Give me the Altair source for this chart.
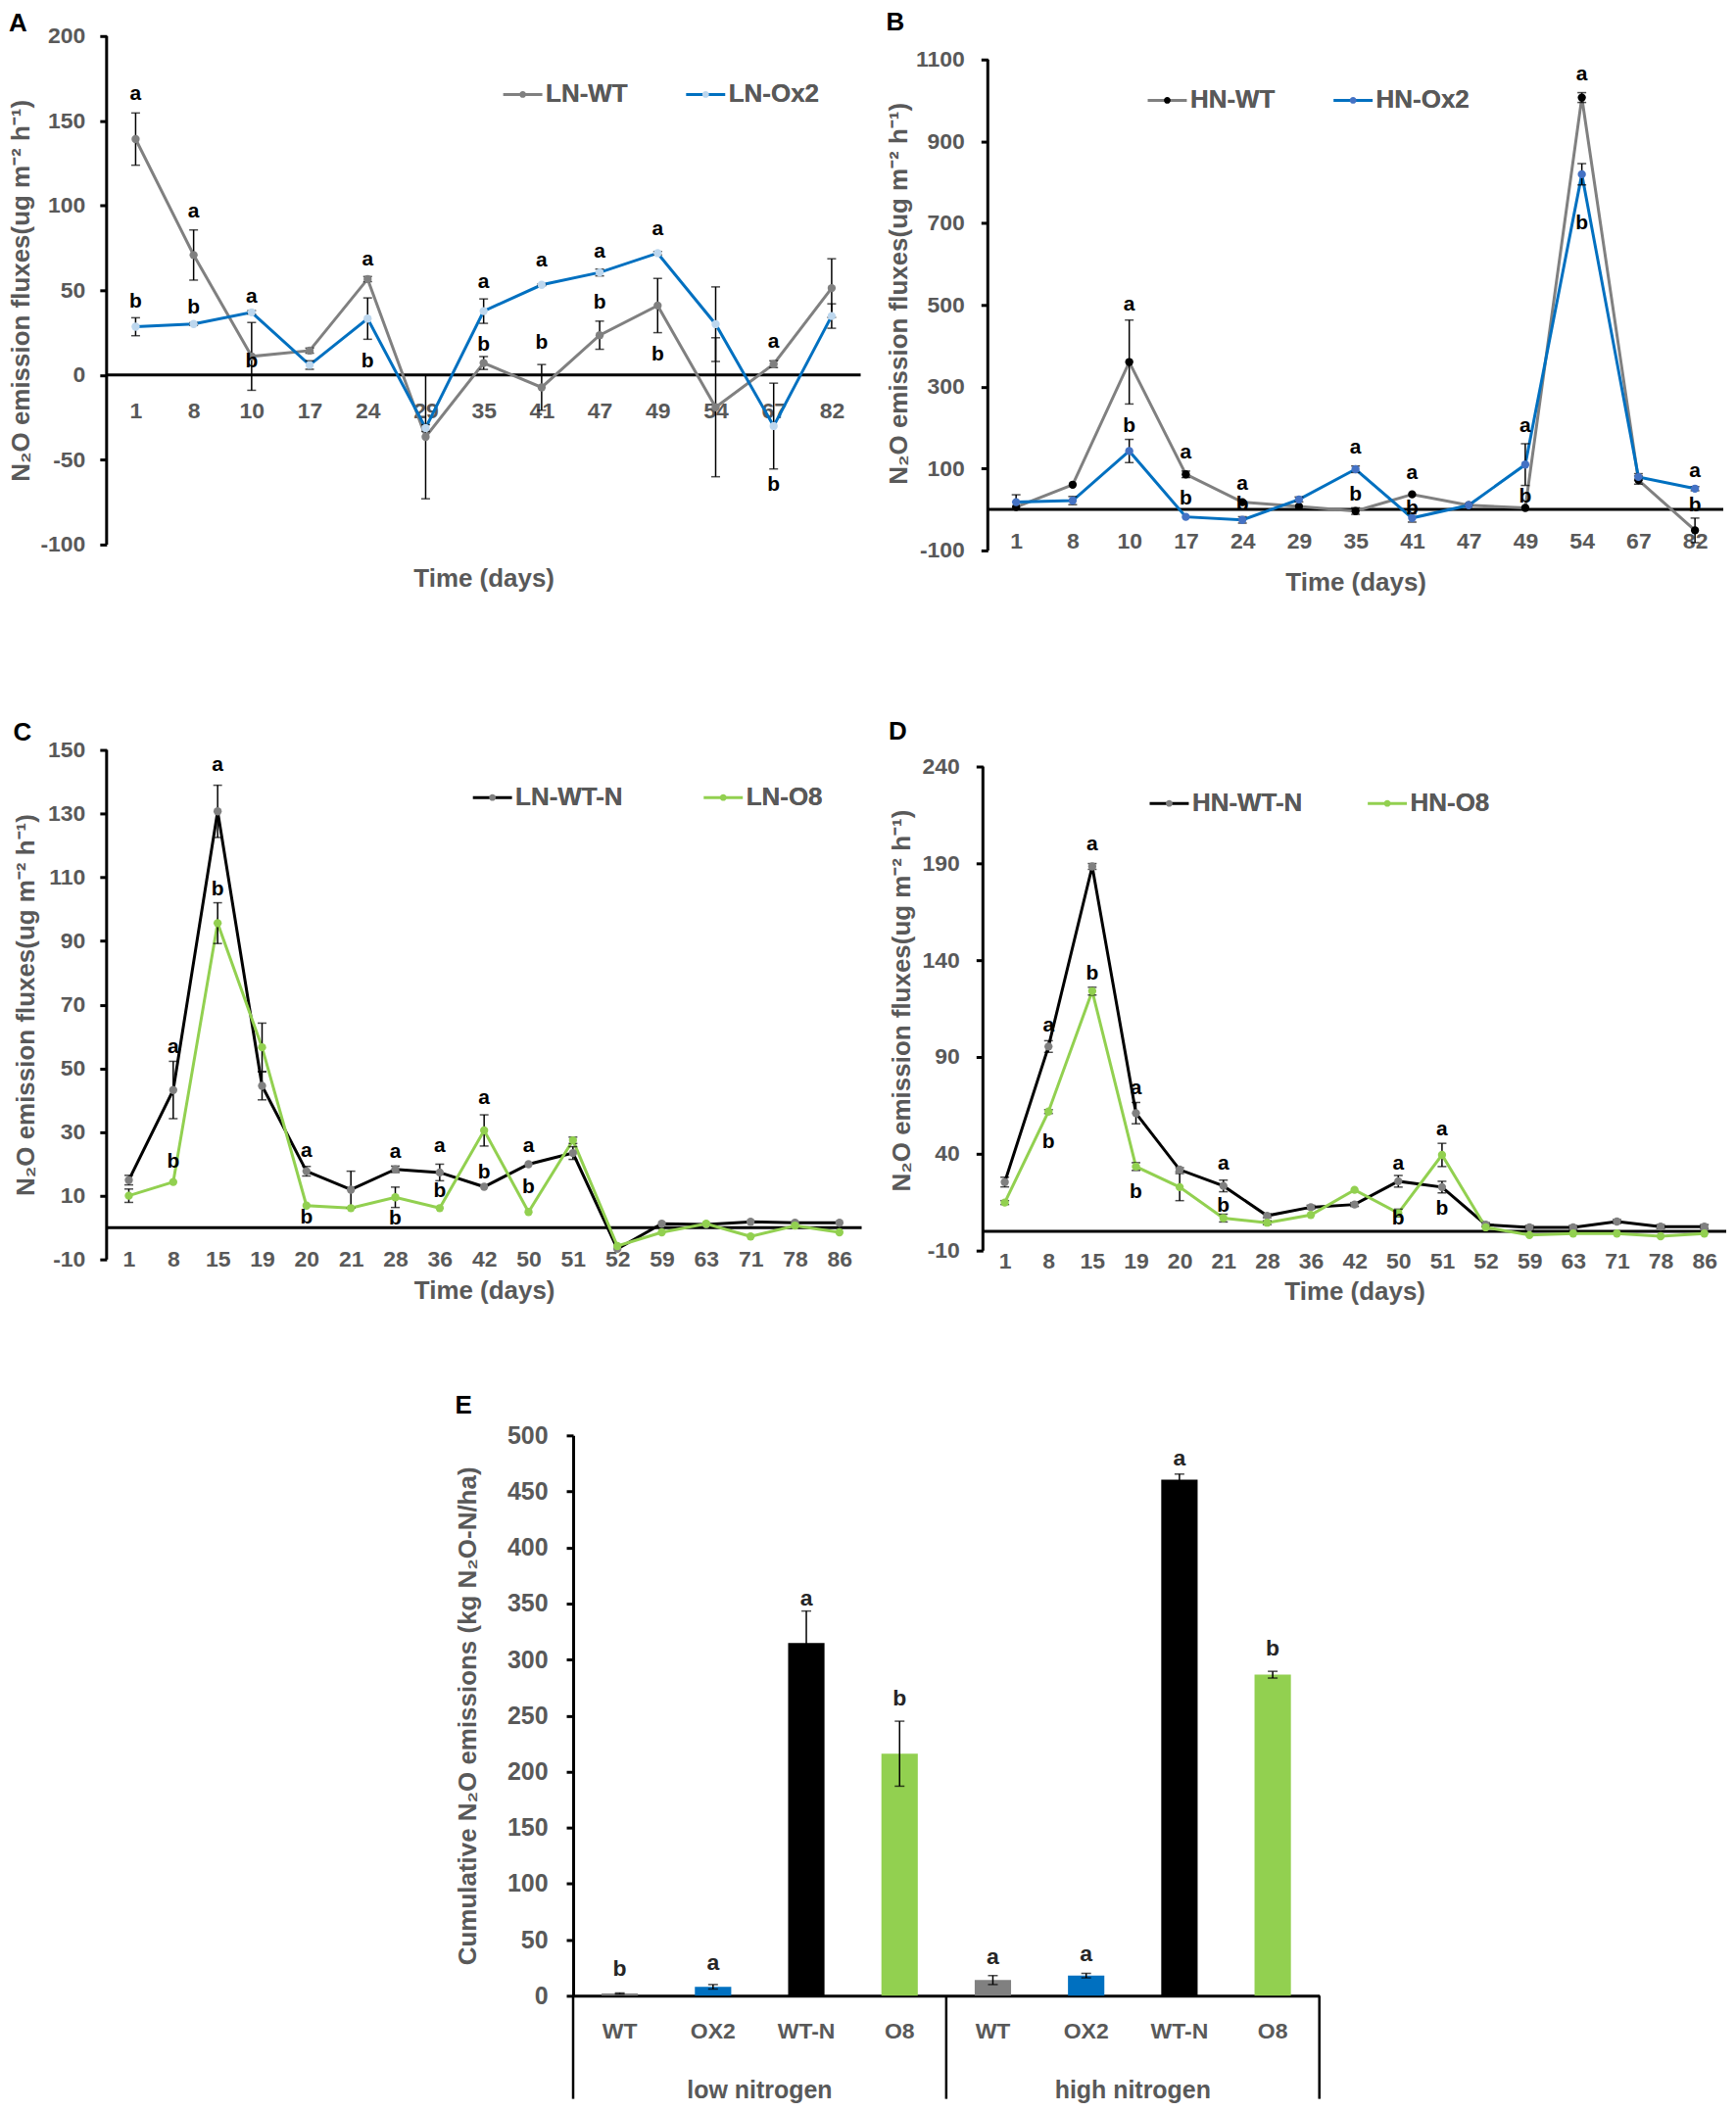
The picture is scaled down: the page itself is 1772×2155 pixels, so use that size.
import altair as alt
import pandas as pd

FONT = "Liberation Sans"
GREY = "#595959"

# ---------------- panels A and B: sampling days ----------------
days_ab = ["1", "8", "10", "17", "24", "29", "35", "41", "47", "49", "54", "67", "82"]

# A: low nitrogen, WT vs Ox2
ln_wt = [139.2, 70.8, 11.0, 14.4, 56.6, -36.5, 7.1, -7.3, 23.5, 41.0, -19.0, 6.4, 51.3]
ln_wt_err = [15.4, 14.8, 20.0, 1.5, 1.5, 36.5, 3.8, 13.5, 8.3, 16.0, 41.0, 2.0, 17.3]
ln_ox2 = [28.5, 30.1, 37.0, 5.9, 33.3, -31.3, 37.7, 53.2, 60.5, 71.9, 30.0, -30.1, 34.8]
ln_ox2_err = [5.3, 0.8, 1.0, 2.5, 12.2, 2.0, 7.2, 0.5, 2.0, 1.0, 22.0, 25.3, 7.2]
a_let_day = ["1", "1", "8", "8", "10", "10", "24", "24", "35", "35", "41", "41", "47", "47", "49", "49", "67", "67"]
a_let_txt = ["a", "b", "a", "b", "a", "b", "a", "b", "a", "b", "a", "b", "a", "b", "a", "b", "a", "b"]
a_let_y = [166, 43, 96.5, 39.5, 46.3, 8.2, 68, 8.2, 55, 17.8, 67.3, 19, 72.6, 42.5, 86.3, 12.1, 19.6, -64.8]

# B: high nitrogen, WT vs Ox2
hn_wt = [6, 60.6, 360.5, 86, 18, 7.6, -3.8, 37, 10.4, 3.8, 1007, 72, -51]
hn_wt_err = [0, 0, 102.6, 8, 0, 0, 8, 0, 0, 0, 12, 10, 30]
hn_ox2 = [18, 21.8, 143, -18, -25.5, 24.6, 98.4, -20.8, 10.4, 109.8, 819.5, 79.5, 51]
hn_ox2_err = [18, 10, 28.4, 0, 8, 6, 8, 10, 0, 51, 26, 8, 5]
b_let_day = ["10", "10", "17", "17", "24", "24", "35", "35", "41", "41", "49", "49", "54", "54", "82", "82"]
b_let_txt = ["a", "b", "a", "b", "a", "b", "a", "b", "a", "b", "a", "b", "a", "b", "a", "b"]
b_let_y = [500, 204, 138, 26.5, 62.5, 12.3, 150, 36, 89, 2.8, 204, 32, 1063.7, 698.4, 92.7, 10.4]

# ---------------- panels C and D ----------------
days_cd = ["1", "8", "15", "19", "20", "21", "28", "36", "42", "50", "51", "52", "59", "63", "71", "78", "86"]

# C: low nitrogen, WT-N vs O8
ln_wtn = [14.9, 43.2, 130.7, 44.5, 17.7, 11.9, 18.3, 17.3, 12.8, 19.9, 23.4, -6.7, 1.2, 1.0, 1.8, 1.5, 1.5]
ln_wtn_err = [1.5, 9, 8.2, 4.4, 1.5, 5.8, 1, 2.6, 0, 0, 2, 0, 0, 0, 0, 0, 0]
ln_o8 = [10.0, 14.3, 95.6, 56.6, 6.9, 6.1, 9.5, 6.1, 30.5, 4.9, 27.4, -5.8, -1.5, 1.2, -2.8, 0.6, -1.5]
ln_o8_err = [2.1, 0, 6.4, 7.6, 0, 0, 3.2, 0, 4.9, 0, 1, 0, 0, 0, 0, 0, 0]
c_let_day = ["8", "8", "15", "15", "20", "20", "28", "28", "36", "36", "42", "42", "50", "50"]
c_let_txt = ["a", "b", "a", "b", "a", "b", "a", "b", "a", "b", "a", "b", "a", "b"]
c_let_y = [56.6, 20.7, 145.2, 106.2, 24.1, 3, 23.7, 2.7, 25.6, 11.3, 40.6, 17.4, 25.6, 12.5]

# D: high nitrogen, WT-N vs O8
hn_wtn = [25.4, 95.4, 188.4, 61, 31.8, 23.4, 8, 12.4, 13.8, 25.8, 22.8, 3.4, 2, 2, 5, 2.4, 2.4]
hn_wtn_err = [2.5, 3, 1.5, 5.5, 1, 3, 1, 1, 1, 3, 3, 1, 1, 1, 1, 1, 1]
hn_o8 = [14.8, 61.8, 124, 33.4, 22.8, 6.8, 4.4, 8.4, 21.4, 9.4, 39.4, 2, -2, -1.2, -1.2, -2.6, -1.2]
hn_o8_err = [1, 1, 2, 2, 7, 2, 1, 0, 0, 2, 6, 0, 0, 0, 0, 0, 0]
d_let_day = ["8", "8", "15", "15", "19", "19", "21", "21", "50", "50", "51", "51"]
d_let_txt = ["a", "b", "a", "b", "a", "b", "a", "b", "a", "b", "a", "b"]
d_let_y = [106.4, 46, 200, 132.8, 73.8, 20, 35, 13, 35, 6.4, 52.4, 11.8]

# ---------------- panel E: cumulative emissions ----------------
e_groups = ["low nitrogen", "high nitrogen"]
e_cats = ["WT", "OX2", "WT-N", "O8"]
e_colors = ["#808080", "#0070C0", "#000000", "#92D050"]
e_low = [2, 8, 314.7, 216]
e_low_err = [0.5, 2, 28.6, 29]
e_high = [14, 18, 460.5, 286.5]
e_high_err = [4, 2, 5, 3]
e_low_let = ["b", "a", "a", "b"]
e_low_let_y = [24, 29, 354, 265]
e_high_let = ["a", "a", "a", "b"]
e_high_let_y = [34.5, 37, 479, 310]

YT = "N₂O emission fluxes(ug m⁻² h⁻¹)"
LINE_SYM = "M-1,0L1,0"
# marker in the middle; the two tiny end segments give it the same extent as the line
DOT_SYM = ("M-1,0L-0.99,0M0.99,0L1,0"
           "M0.17,0A0.17,0.17,0,1,1,-0.17,0A0.17,0.17,0,1,1,0.17,0")


def series_frame(days, names, values, errors):
    rows = []
    for name, vals, errs in zip(names, values, errors):
        for d, v, e in zip(days, vals, errs):
            rows.append({"day": d, "sl": name, "sp": name, "v": v, "e": e,
                         "lo": v - e, "hi": v + e})
    return pd.DataFrame(rows)


def line_panel(tag, days, names, values, errors, line_cols, pt_cols,
               dom, ticks, lets, w, h, lay):
    df = series_frame(days, names, values, errors)
    eb = df[df.e > 0]
    let = pd.DataFrame({"day": lets[0], "t": lets[1], "y": lets[2]})

    xs = alt.Scale(type="point", padding=0.5)
    xax = alt.Axis(title="Time (days)", offset=-lay["xoff"], domain=False, ticks=False,
                   tickSize=0, labelPadding=lay["lpad"], titlePadding=lay["tpad"],
                   labelAngle=0, labelOverlap=False)
    ys = alt.Scale(domain=dom, nice=False, zero=False)
    yax = alt.Axis(values=ticks, labelExpr="'' + datum.value", title=YT, domain=False,
                   titlePadding=lay["ytp"], labelPadding=lay["ylp"])

    def X():
        return alt.X("day:N", sort=days, scale=xs, axis=xax)

    def Y(f):
        return alt.Y(f, scale=ys, axis=yax)

    leg = dict(orient="none", legendX=lay["lx"], legendY=lay["ly"], direction="horizontal",
               title=None, symbolSize=1600, symbolStrokeWidth=3, labelFont=FONT,
               labelFontSize=26, labelFontWeight="bold", labelColor=GREY,
               columnPadding=lay["cp"], labelOffset=2, padding=0)

    # y axis line (from the lowest to the highest tick) and the zero line
    yline = alt.Chart(pd.DataFrame({"a": [ticks[0]], "b": [ticks[-1]]})).mark_rule(
        color="black", strokeWidth=3).encode(x=alt.value(0), y=Y("a:Q"), y2="b:Q")
    zero = alt.Chart(pd.DataFrame({"z": [0]})).mark_rule(color="black", strokeWidth=3).encode(
        y=Y("z:Q"))
    lines = alt.Chart(df).mark_line(strokeWidth=3).encode(
        x=X(), y=Y("v:Q"),
        stroke=alt.Stroke("sl:N", sort=names, scale=alt.Scale(range=line_cols),
                          legend=alt.Legend(symbolType=LINE_SYM, **leg)))
    bars = alt.Chart(eb).mark_rule(color="black", strokeWidth=1.5).encode(
        x=X(), y=Y("lo:Q"), y2="hi:Q")
    cap_lo = alt.Chart(eb).mark_tick(color="black", thickness=1.5, size=9).encode(
        x=X(), y=Y("lo:Q"))
    cap_hi = alt.Chart(eb).mark_tick(color="black", thickness=1.5, size=9).encode(
        x=X(), y=Y("hi:Q"))
    pts = alt.Chart(df).mark_circle(size=70, opacity=1).encode(
        x=X(), y=Y("v:Q"),
        fill=alt.Fill("sp:N", sort=names, scale=alt.Scale(range=pt_cols),
                      legend=alt.Legend(symbolType=DOT_SYM, symbolStrokeColor="transparent",
                                        **leg)))
    txt = alt.Chart(let).mark_text(font=FONT, fontSize=21, fontWeight="bold",
                                   color="black").encode(x=X(), y=Y("y:Q"), text="t:N")

    return alt.layer(yline, zero, lines, bars, cap_lo, cap_hi, pts, txt).properties(
        width=w, height=h,
        title=alt.TitleParams(tag, anchor="start", frame="bounds", font=FONT, fontSize=26,
                              fontWeight="bold", color="black", offset=lay["toff"]))


chart_a = line_panel(
    "A", days_ab, ["LN-WT", "LN-Ox2"], [ln_wt, ln_ox2], [ln_wt_err, ln_ox2_err],
    ["#808080", "#0070C0"], ["#808080", "#BDD7EE"],
    [-100, 200], list(range(-100, 201, 50)), (a_let_day, a_let_txt, a_let_y),
    771, 520,
    dict(xoff=173, lpad=25, tpad=147, ytp=6, ylp=15, lx=404, ly=38, cp=53, toff=-11.5))

# B's plot is stretched upward so that its top lines up with A's; ticks stop at 1100
chart_b = line_panel(
    "B", days_ab, ["HN-WT", "HN-Ox2"], [hn_wt, hn_ox2], [hn_wt_err, hn_ox2_err],
    ["#808080", "#0070C0"], ["#000000", "#4472C4"],
    [-100, 1157.4], list(range(-100, 1101, 200)), (b_let_day, b_let_txt, b_let_y),
    752, 526,
    dict(xoff=42, lpad=22, tpad=17, ytp=4, ylp=17, lx=162, ly=44, cp=53, toff=0.5))

chart_c = line_panel(
    "C", days_cd, ["LN-WT-N", "LN-O8"], [ln_wtn, ln_o8], [ln_wtn_err, ln_o8_err],
    ["#000000", "#92D050"], ["#808080", "#92D050"],
    [-10, 150], list(range(-10, 151, 20)), (c_let_day, c_let_txt, c_let_y),
    772, 521,
    dict(xoff=33, lpad=22, tpad=7, ytp=9, ylp=15, lx=373, ly=27, cp=76, toff=-6.5))

chart_d = line_panel(
    "D", days_cd, ["HN-WT-N", "HN-O8"], [hn_wtn, hn_o8], [hn_wtn_err, hn_o8_err],
    ["#000000", "#92D050"], ["#808080", "#92D050"],
    [-10, 248.6], list(range(-10, 241, 50)), (d_let_day, d_let_txt, d_let_y),
    760, 512,
    dict(xoff=19, lpad=19, tpad=6, ytp=8, ylp=17, lx=169, ly=33, cp=60, toff=5.5))

# ---------------- panel E ----------------
e_rows = []
for g, vals, errs, lt, ly in [(e_groups[0], e_low, e_low_err, e_low_let, e_low_let_y),
                              (e_groups[1], e_high, e_high_err, e_high_let, e_high_let_y)]:
    for c, v, er, l, y in zip(e_cats, vals, errs, lt, ly):
        e_rows.append({"key": g + "|" + c, "cat": c, "v": v, "lo": v - er, "hi": v + er,
                       "t": l, "ty": y})
edf = pd.DataFrame(e_rows)
e_keys = list(edf["key"])

ey_scale = alt.Scale(domain=[0, 500], nice=False)
ey_axis = alt.Axis(values=list(range(0, 501, 50)), title="Cumulative N₂O emissions (kg N₂O-N/ha)",
                   labelFontSize=25, labelPadding=19, titlePadding=27)


def EY(f):
    return alt.Y(f, scale=ey_scale, axis=ey_axis)


ex = alt.X("key:N", sort=e_keys,
           scale=alt.Scale(type="band", paddingInner=0.61, paddingOuter=0.305),
           axis=alt.Axis(title=None, labelExpr="split(datum.value, '|')[1]", ticks=False,
                         tickSize=0, labelPadding=25, labelAngle=0, labelFontSize=23))

e_bars = alt.Chart(edf).mark_bar().encode(
    x=ex, y=EY("v:Q"),
    color=alt.Color("cat:N", scale=alt.Scale(domain=e_cats, range=e_colors), legend=None))
e_err = alt.Chart(edf).mark_rule(color="black", strokeWidth=1.5).encode(x=ex, y=EY("lo:Q"), y2="hi:Q")
e_cap_lo = alt.Chart(edf).mark_tick(color="black", thickness=1.5, size=10).encode(x=ex, y=EY("lo:Q"))
e_cap_hi = alt.Chart(edf).mark_tick(color="black", thickness=1.5, size=10).encode(x=ex, y=EY("hi:Q"))
e_txt = alt.Chart(edf).mark_text(font=FONT, fontSize=23, fontWeight="bold", color="#262626").encode(
    x=ex, y=EY("ty:Q"), text="t:N")

gdf = pd.DataFrame({"grp": e_groups})
g_axis = alt.Axis(orient="bottom", title=None, domain=False, ticks=False, tickSize=0,
                  labelPadding=84, labelFontSize=25, labelAngle=0)
g_scale = alt.Scale(type="band", paddingInner=0, paddingOuter=0)
sep_start = alt.Chart(gdf).mark_rule(color="black", strokeWidth=2.5).encode(
    x=alt.X("grp:N", sort=e_groups, scale=g_scale, axis=g_axis, bandPosition=0),
    y=alt.datum(0), y2=alt.datum(-92))
sep_end = alt.Chart(gdf[gdf.grp == e_groups[1]]).mark_rule(color="black", strokeWidth=2.5).encode(
    x=alt.X("grp:N", sort=e_groups, scale=g_scale, axis=g_axis, bandPosition=1),
    y=alt.datum(0), y2=alt.datum(-92))

chart_e = alt.layer(
    alt.layer(e_bars, e_err, e_cap_lo, e_cap_hi, e_txt),
    alt.layer(sep_start, sep_end),
).resolve_scale(x="independent").properties(
    width=763, height=573,
    title=alt.TitleParams("E", anchor="start", frame="bounds", font=FONT, fontSize=26,
                          fontWeight="bold", color="black", offset=5))

spacer = alt.Chart(pd.DataFrame({"s": [0]})).mark_rule(opacity=0).encode(
    x=alt.value(0), x2=alt.value(356), y=alt.value(0)).properties(width=356, height=10)

ind = dict(stroke="independent", fill="independent", color="independent")
leg_ind = dict(stroke="independent", fill="independent")
row1 = alt.hconcat(chart_a, chart_b, spacing=24).resolve_scale(**ind).resolve_legend(**leg_ind)
row2 = alt.hconcat(chart_c, chart_d, spacing=25).resolve_scale(**ind).resolve_legend(**leg_ind)
row3 = alt.hconcat(spacer, chart_e, spacing=0)

top = alt.vconcat(row1, row2, spacing=126).resolve_scale(**ind).resolve_legend(**leg_ind)
chart = alt.vconcat(top, row3, spacing=91).resolve_scale(**ind).resolve_legend(
    stroke="independent", fill="independent", color="independent").properties(
    padding={"left": 0, "top": 0, "right": 0, "bottom": 0}
).configure_view(stroke=None).configure_axis(
    labelFont=FONT, titleFont=FONT, labelFontSize=23, labelFontWeight="bold", labelColor=GREY,
    titleFontSize=26, titleFontWeight="bold", titleColor=GREY, grid=False,
    domainColor="black", domainWidth=3, tickColor="black", tickWidth=3, tickSize=7
)

chart.save("out.html", embed_options={"renderer": "svg", "actions": False})
